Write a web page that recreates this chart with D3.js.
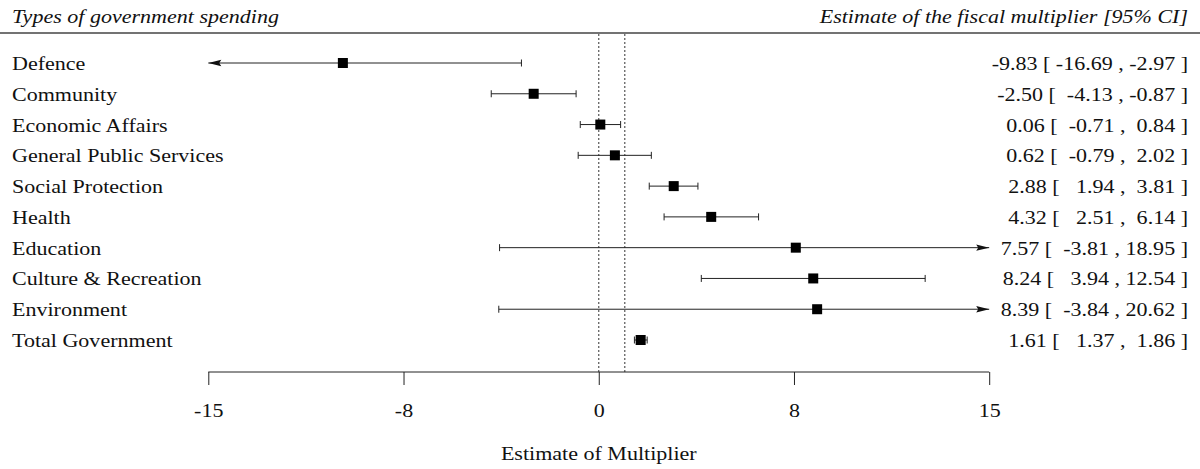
<!DOCTYPE html>
<html>
<head>
<meta charset="utf-8">
<script src="https://cdn.jsdelivr.net/npm/d3@7"></script>
<style>
  body { margin: 0; background: #fff; }
  svg text { font-family: "Liberation Serif", "Times New Roman", serif; fill: #111; }
</style>
</head>
<body>
<div id="chart"></div>
<script>
// forest plot of fiscal multipliers by spending type
var categories = ['Defence', 'Community', 'Economic Affairs', 'General Public Services',
    'Social Protection', 'Health', 'Education', 'Culture & Recreation', 'Environment', 'Total Government'];
var estimates = [-9.83, -2.50, 0.06, 0.62, 2.88, 4.32, 7.57, 8.24, 8.39, 1.61];
var lower = [-16.69, -4.13, -0.71, -0.79, 1.94, 2.51, -3.81, 3.94, -3.84, 1.37];
var upper = [-2.97, -0.87, 0.84, 2.02, 3.81, 6.14, 18.95, 12.54, 20.62, 1.86];
var tickValues = [-15, -7.5, 0, 7.5, 15];
var tickLabels = ['-15', '-8', '0', '8', '15'];
var refLines = [0, 1];

var width = 1200, height = 469;
var fontSize = '19.5px';
var sx = 1.13; // the original text is a bit wide for its height
var data = categories.map((c, i) => ({ name: c, est: estimates[i], lo: lower[i], hi: upper[i] }));

var x = d3.scaleLinear().domain([-15, 15]).range([208.3, 989.2]);
var y = d3.scaleLinear().domain([0, categories.length - 1]).range([63, 340]);
var axisY = 372;

var svg = d3.select('#chart').append('svg')
    .attr('width', width)
    .attr('height', height);

function label(sel, tx, ty, anchor, txt, italic) {
    return sel.append('text')
        .attr('transform', `translate(${tx},${ty}) scale(${sx},1)`)
        .attr('text-anchor', anchor)
        .attr('xml:space', 'preserve')
        .style('white-space', 'pre')
        .style('font-size', fontSize)
        .style('font-style', italic ? 'italic' : 'normal')
        .text(txt);
}

// header
label(svg, 12, 23, 'start', 'Types of government spending', true);
label(svg, 1188, 23, 'end', 'Estimate of the fiscal multiplier [95% CI]', true);
svg.append('line')
    .attr('x1', 0).attr('x2', width)
    .attr('y1', 33).attr('y2', 33)
    .attr('stroke', '#444').attr('stroke-width', 1.5);

// dotted reference lines
svg.selectAll('line.ref')
    .data(refLines)
    .enter().append('line')
    .attr('class', 'ref')
    .attr('x1', d => x(d)).attr('x2', d => x(d))
    .attr('y1', 34).attr('y2', axisY)
    .attr('stroke', '#555').attr('stroke-width', 1.2)
    .attr('stroke-dasharray', '2,2');

// x axis
var axis = d3.axisBottom(x)
    .tickValues(tickValues)
    .tickFormat((d, i) => tickLabels[i])
    .tickSize(13)
    .tickPadding(18);
var gAxis = svg.append('g')
    .attr('transform', `translate(0,${axisY})`)
    .call(axis);
gAxis.select('.domain').attr('stroke', '#222').attr('d', `M${x(-15)},0H${x(15)}`);
gAxis.selectAll('.tick line').attr('stroke', '#222');
gAxis.selectAll('.tick text')
    .attr('fill', '#111')
    .attr('transform', `scale(${sx},1)`)
    .attr('x', 0)
    .style('font-family', '"Liberation Serif", serif')
    .style('font-size', fontSize);

label(svg, x(0), 460, 'middle', 'Estimate of Multiplier', false);

// rows
var rows = svg.selectAll('g.row')
    .data(data)
    .enter().append('g')
    .attr('class', 'row')
    .attr('transform', (d, i) => `translate(0,${y(i)})`);

rows.each(function(d) { label(d3.select(this), 12, 7, 'start', d.name, false); });

var xmin = x.domain()[0], xmax = x.domain()[1];

// CI lines
rows.append('line')
    .attr('x1', d => x(Math.max(d.lo, xmin)))
    .attr('x2', d => x(Math.min(d.hi, xmax)))
    .attr('y1', 0).attr('y2', 0)
    .attr('stroke', '#222').attr('stroke-width', 1);

// end caps, or arrows where the interval runs off the axis
rows.each(function(d) {
    var g = d3.select(this);
    if (d.lo < xmin) {
        var a = x(xmin);
        g.append('path')
            .attr('d', `M${a},0L${a + 13},-3.2L${a + 11},0L${a + 13},3.2Z`)
            .attr('fill', '#111');
    } else {
        g.append('line')
            .attr('x1', x(d.lo)).attr('x2', x(d.lo))
            .attr('y1', -3.5).attr('y2', 3.5)
            .attr('stroke', '#222');
    }
    if (d.hi > xmax) {
        var b = x(xmax);
        g.append('path')
            .attr('d', `M${b},0L${b - 13},-3.2L${b - 11},0L${b - 13},3.2Z`)
            .attr('fill', '#111');
    } else {
        g.append('line')
            .attr('x1', x(d.hi)).attr('x2', x(d.hi))
            .attr('y1', -3.5).attr('y2', 3.5)
            .attr('stroke', '#222');
    }
});

// point estimates
rows.append('rect')
    .attr('x', d => x(d.est) - 5)
    .attr('y', -5)
    .attr('width', 10).attr('height', 10)
    .attr('fill', '#000');

// right-hand annotations
function pad(s, n) { while (s.length < n) s = ' ' + s; return s; }
rows.each(function(d) {
    var txt = `${d.est.toFixed(2)} [ ${pad(d.lo.toFixed(2), 6)} , ${pad(d.hi.toFixed(2), 5)} ]`;
    label(d3.select(this), 1188, 7, 'end', txt, false);
});
</script>
</body>
</html>
